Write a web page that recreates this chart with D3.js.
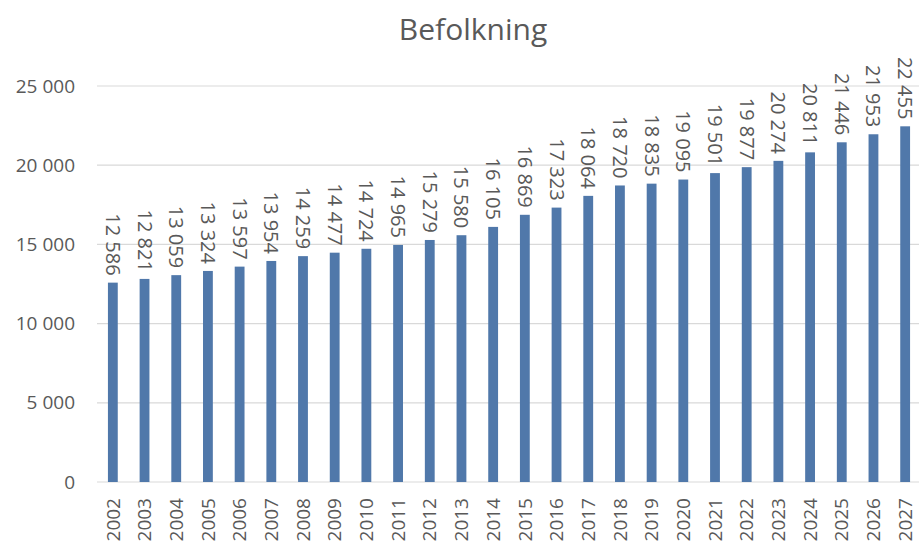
<!DOCTYPE html>
<html>
<head>
<meta charset="utf-8">
<script src="https://cdn.jsdelivr.net/npm/d3@7"></script>
<style>
  body { margin: 0; background: #fff; }
  text { font-family: "Open Sans", sans-serif; fill: #595959; }
</style>
</head>
<body>
<div id="chart"></div>
<script>
// data
var years = ["2002","2003","2004","2005","2006","2007","2008","2009","2010","2011","2012","2013","2014",
  "2015","2016","2017","2018","2019","2020","2021","2022","2023","2024","2025","2026","2027"];
var population = [12586,12821,13059,13324,13597,13954,14259,14477,14724,14965,15279,15580,16105,
  16869,17323,18064,18720,18835,19095,19501,19877,20274,20811,21446,21953,22455];
var yTicks = [0,5000,10000,15000,20000,25000];

var W = 919, H = 545;
var margin = {t: 86, r: -2, b: 63, l: 97};
var width = W - margin.l - margin.r,
    height = H - margin.t - margin.b;

var svg = d3.select('#chart').append('svg')
    .attr('width', W).attr('height', H);

var loc = d3.formatLocale({decimal: ",", thousands: " ", grouping: [3], currency: ["", ""]});
var fmt = loc.format(",d");

var scaleX = d3.scaleBand().domain(years).range([0, width]).paddingInner(0.69).paddingOuter(0.345);
var scaleY = d3.scaleLinear().domain([0, 25000]).range([height, 0]);

var plot = svg.append('g').attr('transform', 'translate(' + margin.l + ',' + margin.t + ')');

// gridlines
plot.append('g').attr('class', 'grid')
  .selectAll('line').data(yTicks).enter().append('line')
  .attr('x1', 0).attr('x2', width)
  .attr('y1', function(d){ return scaleY(d); })
  .attr('y2', function(d){ return scaleY(d); })
  .attr('stroke', '#d9d9d9').attr('stroke-width', 1.2);

// y axis labels
var axisY = d3.axisLeft(scaleY).tickValues(yTicks).tickFormat(fmt).tickSize(0).tickPadding(22);
plot.append('g').attr('class', 'axis-y').call(axisY)
  .call(function(g){ g.select('.domain').remove(); })
  .selectAll('text').style('font-size', '19px').attr('fill', '#595959');

// bars
plot.append('g').selectAll('rect').data(population).enter().append('rect')
  .attr('x', function(d, i){ return scaleX(years[i]); })
  .attr('y', function(d){ return scaleY(d); })
  .attr('width', scaleX.bandwidth())
  .attr('height', function(d){ return height - scaleY(d); })
  .attr('fill', '#5078aa');

// value labels
plot.append('g').selectAll('text').data(population).enter().append('text')
  .attr('transform', function(d, i){
    var x = scaleX(years[i]) + scaleX.bandwidth()/2;
    return 'translate(' + x + ',' + (scaleY(d) - 7) + ') rotate(90)';
  })
  .attr('text-anchor', 'end')
  .attr('dy', '0.35em')
  .style('font-size', '20px')
  .text(function(d){ return fmt(d); });

// x axis labels
var axisX = d3.axisBottom(scaleX).tickSize(0).tickPadding(0);
plot.append('g').attr('transform', 'translate(0,' + height + ')').call(axisX)
  .call(function(g){ g.select('.domain').remove(); })
  .selectAll('text')
  .attr('transform', 'translate(0,16) rotate(-90)')
  .attr('text-anchor', 'end')
  .attr('x', 0).attr('y', 0).attr('dy', '0.35em')
  .style('font-size', '19px').attr('fill', '#595959');

// title
svg.append('text').attr('x', 473).attr('y', 40)
  .attr('text-anchor', 'middle').style('font-size', '30px')
  .text('Befolkning');
</script>
</body>
</html>
